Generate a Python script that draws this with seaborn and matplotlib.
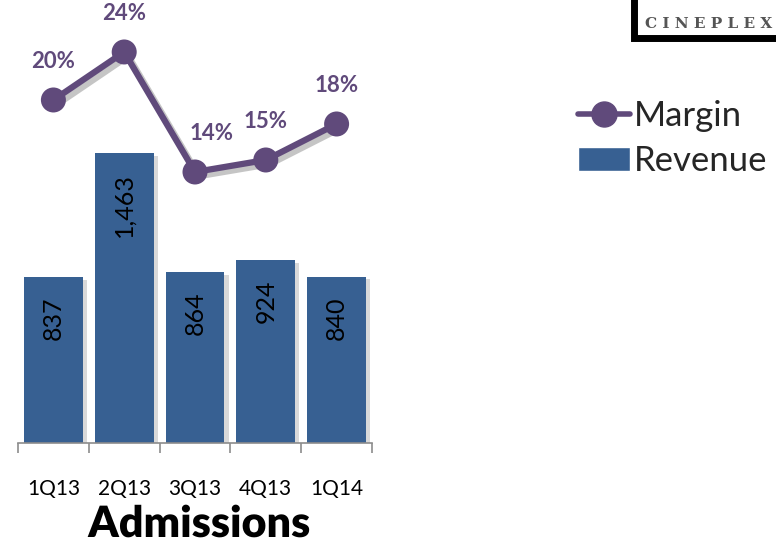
import matplotlib
matplotlib.use("Agg")
import matplotlib.pyplot as plt
import matplotlib.patheffects as pe
from matplotlib.lines import Line2D
from matplotlib.patches import Patch, Rectangle
import seaborn as sns
import pandas as pd

quarters = ["1Q13", "2Q13", "3Q13", "4Q13", "1Q14"]
revenue = [837, 1463, 864, 924, 840]
revenue_labels = ["837", "1,463", "864", "924", "840"]
margin = [20, 24, 14, 15, 18]
margin_labels = ["20%", "24%", "14%", "15%", "18%"]

sns.set_theme(style="white")
plt.rcParams['font.family'] = ['Lato', 'DejaVu Sans']

BAR = "#376092"
PURPLE = "#604A7B"

fig = plt.figure(figsize=(7.76, 5.46), dpi=100)
ax = fig.add_axes([18/776, (546-443)/546, (372-18)/776, 443/546])

df = pd.DataFrame({"q": quarters, "rev": revenue, "m": margin})
sns.barplot(data=df, x="q", y="rev", color=BAR, width=0.83, saturation=1, ax=ax,
            edgecolor="none")
for p in ax.patches:
    p.set_path_effects([pe.SimplePatchShadow(offset=(3, -2), alpha=0.22, shadow_rgbFace="#555555"), pe.Normal()])

ax.set_xlim(-0.5, 4.5)
ax.set_ylim(0, 2237)
for i, (v, lab) in enumerate(zip(revenue, revenue_labels)):
    ax.annotate(lab, (i, v), xytext=(0, -14), textcoords="offset points",
                rotation=90, ha="center", va="top", fontsize=18, color="black")

ax2 = ax.twinx()
ax2.set_ylim(-8.58, 28.33)
sns.lineplot(data=df, x=range(len(quarters)), y="m", ax=ax2, color=PURPLE, linewidth=4.5,
             marker="o", markersize=18, markeredgewidth=0, legend=False,
             path_effects=[pe.SimpleLineShadow(offset=(3, -3), alpha=0.25), pe.Normal()])
offsets = [(0, 28), (0, 28), (12, 28), (0, 28), (0, 28)]
for i, (v, lab) in enumerate(zip(margin, margin_labels)):
    ax2.annotate(lab, (i, v), xytext=offsets[i], textcoords="offset points",
                 ha="center", va="center", fontsize=16, fontweight="bold", color=PURPLE)

for a in (ax, ax2):
    a.set_yticks([])
    a.set_ylabel("")
    a.set_xlabel("")
    for s in a.spines.values():
        s.set_visible(False)
ax2.set_xlim(-0.5, 4.5)

ax.spines["bottom"].set_visible(True)
ax.spines["bottom"].set_color("#8c8c8c")
ax.spines["bottom"].set_linewidth(1.2)
ax.set_xticks([-0.5, 0.5, 1.5, 2.5, 3.5, 4.5], minor=False)
ax.set_xticklabels([])
ax.tick_params(axis="x", which="major", length=7, width=1.2, color="#8c8c8c", bottom=True)
ax.set_xticks(range(5), minor=True)
ax.set_xticklabels(quarters, minor=True)
ax.tick_params(axis="x", which="minor", length=0, labelsize=15, pad=26, colors="black")

fig.text(199/776, 1 - 524/546, "Admissions", ha="center", va="center", fontsize=31,
         fontweight="heavy", color="black",
         path_effects=[pe.SimpleLineShadow(offset=(2, -2), alpha=0.35), pe.Normal()])

handles = [Line2D([0], [0], color=PURPLE, lw=4, marker="o", markersize=18),
           Patch(facecolor=BAR)]
fig.legend(handles, ["Margin", "Revenue"], loc="upper left",
           bbox_to_anchor=(578/776, 1 - 100/546), frameon=False, fontsize=25,
           handlelength=1.5, handletextpad=0.1, labelspacing=0.37, borderaxespad=0,
           borderpad=0)

# logo box
fig.patches.append(Rectangle((634/776, 1 - 38/546), 150/776, 45/546, transform=fig.transFigure,
                             facecolor="white", edgecolor="black", linewidth=5))
fig.text(709/776, 1 - 24/546, "C I N E P L E X", ha="center", va="center", fontsize=11,
         fontweight="bold", color="#555555", family="DejaVu Serif")

fig.savefig("out.png", dpi=100)
